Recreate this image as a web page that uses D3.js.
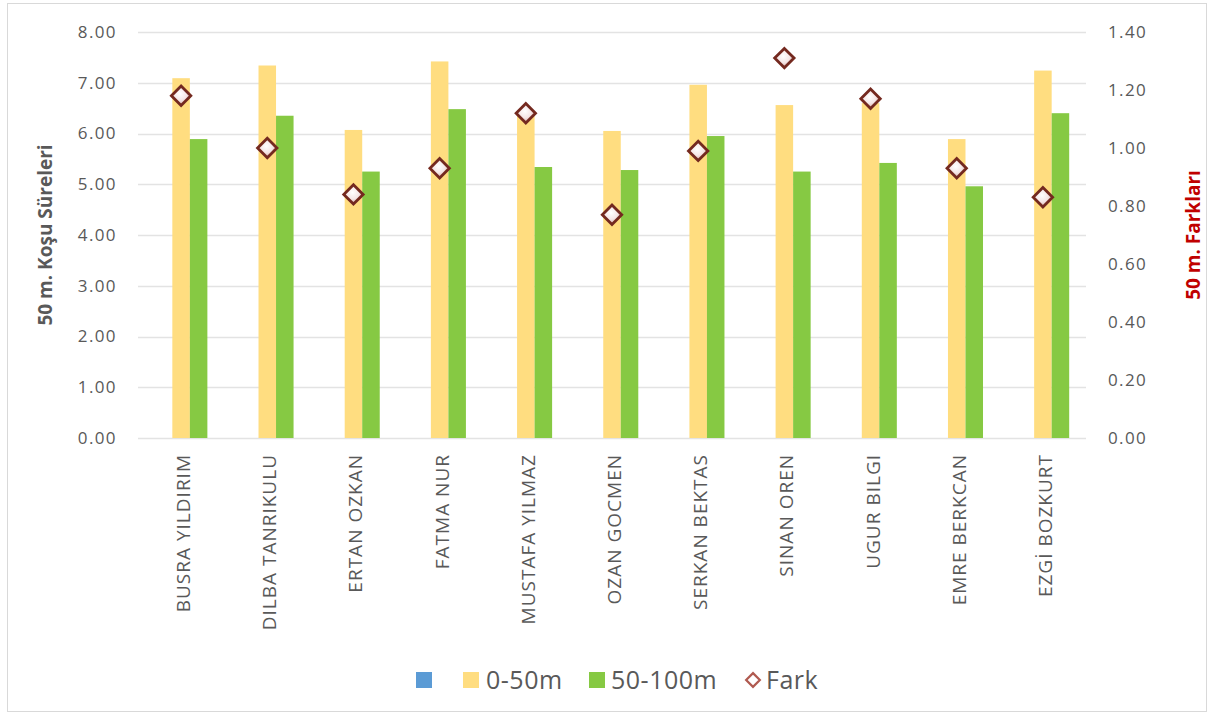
<!DOCTYPE html>
<html><head><meta charset="utf-8">
<script src="https://cdn.jsdelivr.net/npm/d3@7"></script>
<style>body{margin:0;background:#fff;} svg{display:block;}</style>
</head><body>
<svg id="c" width="1213" height="716"></svg>
<script>
const categories = ["BUSRA YILDIRIM","DILBA TANRIKULU","ERTAN OZKAN","FATMA NUR","MUSTAFA YILMAZ","OZAN GOCMEN","SERKAN BEKTAS","SINAN OREN","UGUR BILGI","EMRE BERKCAN","EZGİ BOZKURT"];
const series0 = [null,null,null,null,null,null,null,null,null,null,null];
const series050 = [7.09,7.34,6.07,7.42,6.45,6.05,6.96,6.56,6.60,5.89,7.24];
const series50100 = [5.89,6.35,5.25,6.48,5.34,5.28,5.95,5.25,5.42,4.96,6.40];
const fark = [1.18,1.00,0.84,0.93,1.12,0.77,0.99,1.31,1.17,0.93,0.83];
const leftTicks = [0,1,2,3,4,5,6,7,8];
const rightTicks = [0,0.2,0.4,0.6,0.8,1.0,1.2,1.4];

const svg = d3.select("#c");
const font = "'Open Sans', sans-serif";
const m = {l:138, r:1086, t:32, b:438};

svg.append("rect").attr("x",7.5).attr("y",3.5).attr("width",1199).attr("height",708)
  .attr("fill","#fff").attr("stroke","#d9d9d9");

const x = d3.scaleBand().domain(categories).range([m.l,m.r]).paddingInner(0.39).paddingOuter(0.195);
const sub = d3.scaleBand().domain([0,1,2]).range([0,x.bandwidth()]);
const yL = d3.scaleLinear().domain([0,8]).range([m.b,m.t]);
const yR = d3.scaleLinear().domain([0,1.4]).range([m.b,m.t]);

// grid
svg.append("g").selectAll("line").data(leftTicks).join("line")
  .attr("x1",m.l).attr("x2",m.r).attr("y1",d=>Math.round(yL(d))+0.5).attr("y2",d=>Math.round(yL(d))+0.5)
  .attr("stroke","#e3e3e3").attr("stroke-width",1.5);

// left axis
const axL = d3.axisLeft(yL).tickValues(leftTicks).tickFormat(d3.format(".2f")).tickSize(0).tickPadding(21);
const gL = svg.append("g").attr("transform",`translate(${m.l},0)`).call(axL);
gL.select(".domain").remove();
gL.selectAll("text").attr("font-family",font).attr("font-size",17).attr("fill","#595959").attr("letter-spacing","1.4px");

const axR = d3.axisRight(yR).tickValues(rightTicks).tickFormat(d3.format(".2f")).tickSize(0).tickPadding(22);
const gR = svg.append("g").attr("transform",`translate(${m.r},0)`).call(axR);
gR.select(".domain").remove();
gR.selectAll("text").attr("font-family",font).attr("font-size",17).attr("fill","#595959").attr("letter-spacing","1.4px");

// bars
const colors = ["#5b9bd5","#ffdd80","#86c943"];
[series0, series050, series50100].forEach((s,si)=>{
  svg.append("g").selectAll("rect").data(s.map((v,i)=>({v,c:categories[i]})).filter(d=>d.v!=null)).join("rect")
    .attr("x",d=>x(d.c)+sub(si)).attr("width",sub.bandwidth())
    .attr("y",d=>yL(d.v)).attr("height",d=>yL(0)-yL(d.v)).attr("fill",colors[si]);
});

// diamonds
const defs = svg.append("defs");
const rg = defs.append("radialGradient").attr("id","dg").attr("cx","45%").attr("cy","40%").attr("r","60%");
rg.append("stop").attr("offset","0%").attr("stop-color","#ffffff");
rg.append("stop").attr("offset","55%").attr("stop-color","#f5e6e6");
rg.append("stop").attr("offset","100%").attr("stop-color","#d4a9a5");
const dsym = d3.symbol().type(d3.symbolDiamond2).size(240);
svg.append("g").selectAll("path").data(fark.map((v,i)=>({v,c:categories[i]}))).join("path")
  .attr("d",dsym)
  .attr("transform",d=>`translate(${x(d.c)+x.bandwidth()/2},${yR(d.v)})`)
  .attr("fill","url(#dg)").attr("stroke","#74291f").attr("stroke-width",2.8);

// category labels
svg.append("g").selectAll("text").data(categories).join("text")
  .attr("transform",d=>`translate(${x(d)+x.bandwidth()/2+9},454) rotate(-90)`)
  .attr("text-anchor","end").attr("font-family",font).attr("font-size",19).attr("fill","#595959")
  .attr("letter-spacing","1px")
  .text(d=>d);

// axis titles
svg.append("text").attr("transform","translate(52,235) rotate(-90)").attr("text-anchor","middle")
  .attr("font-family",font).attr("font-weight","bold").attr("font-size",19).attr("fill","#595959")
  .text("50 m. Koşu Süreleri");
svg.append("text").attr("transform","translate(1200,235) rotate(-90)").attr("text-anchor","middle")
  .attr("font-family",font).attr("font-weight","bold").attr("font-size",19).attr("fill","#c00000")
  .text("50 m. Farkları");

// legend
const lg = svg.append("g").attr("font-family",font).attr("font-size",25).attr("fill","#595959").attr("letter-spacing","0.5px");
lg.append("rect").attr("x",416).attr("y",672).attr("width",16).attr("height",16).attr("fill",colors[0]);
lg.append("rect").attr("x",463).attr("y",672).attr("width",16).attr("height",16).attr("fill",colors[1]);
lg.append("text").attr("x",486).attr("y",689).text("0-50m");
lg.append("rect").attr("x",589).attr("y",672).attr("width",16).attr("height",16).attr("fill",colors[2]);
lg.append("text").attr("x",611).attr("y",689).text("50-100m");
lg.append("path").attr("d",d3.symbol().type(d3.symbolDiamond2).size(120)).attr("transform","translate(753,680)")
  .attr("fill","#fff").attr("stroke","#b05a50").attr("stroke-width",2.2);
lg.append("text").attr("x",766).attr("y",689).text("Fark");
</script>
</body></html>
